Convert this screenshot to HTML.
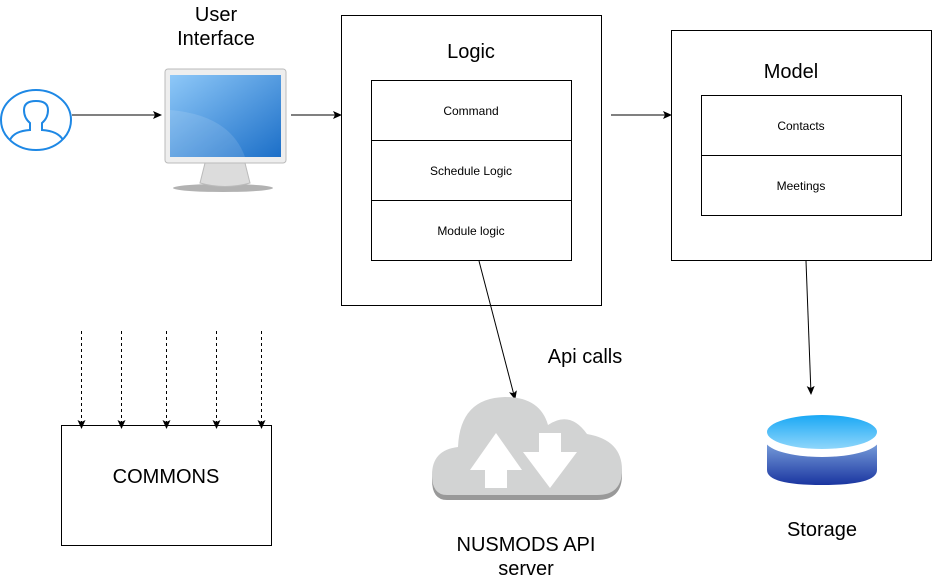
<!DOCTYPE html>
<html><head><meta charset="utf-8"><style>body{margin:0;background:#fff}svg{display:block}text{font-family:"Liberation Sans",sans-serif;fill:#000}</style></head><body>
<svg width="932" height="586" viewBox="0 0 932 586" xmlns="http://www.w3.org/2000/svg">
<defs>
<marker id="a" markerWidth="10" markerHeight="10" refX="8" refY="4" orient="auto" markerUnits="userSpaceOnUse"><path d="M0,0 L9,4 L0,8 L2,4 Z" fill="#000"/></marker>
<linearGradient id="scr" x1="0" y1="0" x2="1" y2="1"><stop offset="0" stop-color="#8ec8f8"/><stop offset="1" stop-color="#1c6fc8"/></linearGradient>
<linearGradient id="top" x1="0" y1="0" x2="0" y2="1"><stop offset="0" stop-color="#1aa8f5"/><stop offset="1" stop-color="#8fd6fb"/></linearGradient>
<linearGradient id="body" x1="0" y1="0" x2="0" y2="1"><stop offset="0" stop-color="#7aa0dc"/><stop offset="1" stop-color="#1a35a0"/></linearGradient>
</defs>
<!-- user -->
<ellipse cx="36" cy="120" rx="35" ry="30" fill="#fff" stroke="#1e88e5" stroke-width="2"/>
<path d="M10,140 Q14,131 30,130 L30,123 Q24,118 24,110 Q24,101 36,101 Q48,101 48,110 Q48,118 42,123 L42,130 Q58,131 63,140" fill="none" stroke="#1e88e5" stroke-width="2"/>
<line x1="72" y1="115" x2="161" y2="115" stroke="#000" marker-end="url(#a)"/>
<!-- monitor -->
<text x="216" y="21" font-size="20" text-anchor="middle">User</text>
<text x="216" y="45" font-size="20" text-anchor="middle">Interface</text>
<ellipse cx="223" cy="188" rx="50" ry="4" fill="#666" opacity="0.5"/>
<path d="M205,163 L245,163 L250,183 Q225,190 200,183 Z" fill="#dcdcdc" stroke="#bbb"/>
<rect x="165" y="69" width="121" height="94" rx="3" fill="#eee" stroke="#bbb"/>
<rect x="170" y="75" width="111" height="82" fill="url(#scr)"/>
<path d="M170,110 Q230,115 245,157 L170,157 Z" fill="#fff" opacity="0.12"/>
<line x1="291" y1="115" x2="341" y2="115" stroke="#000" marker-end="url(#a)"/>
<!-- logic -->
<rect x="341.5" y="15.5" width="260" height="290" fill="#fff" stroke="#000"/>
<text x="471" y="58" font-size="20" text-anchor="middle">Logic</text>
<rect x="371.5" y="80.5" width="200" height="60" fill="#fff" stroke="#000"/>
<rect x="371.5" y="140.5" width="200" height="60" fill="#fff" stroke="#000"/>
<rect x="371.5" y="200.5" width="200" height="60" fill="#fff" stroke="#000"/>
<text x="471" y="115" font-size="12" text-anchor="middle">Command</text>
<text x="471" y="175" font-size="12" text-anchor="middle">Schedule Logic</text>
<text x="471" y="235" font-size="12" text-anchor="middle">Module logic</text>
<line x1="611" y1="115" x2="671" y2="115" stroke="#000" marker-end="url(#a)"/>
<!-- model -->
<rect x="671.5" y="30.5" width="260" height="230" fill="#fff" stroke="#000"/>
<text x="791" y="78" font-size="20" text-anchor="middle">Model</text>
<rect x="701.5" y="95.5" width="200" height="60" fill="#fff" stroke="#000"/>
<rect x="701.5" y="155.5" width="200" height="60" fill="#fff" stroke="#000"/>
<text x="801" y="130" font-size="12" text-anchor="middle">Contacts</text>
<text x="801" y="190" font-size="12" text-anchor="middle">Meetings</text>
<line x1="479" y1="261" x2="515" y2="399" stroke="#000" marker-end="url(#a)"/>
<text x="585" y="363" font-size="20" text-anchor="middle">Api calls</text>
<line x1="806" y1="261" x2="811" y2="394" stroke="#000" marker-end="url(#a)"/>
<!-- cloud -->
<g transform="translate(0,5)"><path d="M447,495 Q432,495 432,475 Q432,450 458,447 Q460,398 505,397 Q540,397 548,425 Q570,410 587,434 Q622,440 622,470 Q622,495 597,495 Z" fill="#999"/></g>
<path d="M447,495 Q432,495 432,475 Q432,450 458,447 Q460,398 505,397 Q540,397 548,425 Q570,410 587,434 Q622,440 622,470 Q622,495 597,495 Z" fill="#d2d3d3"/>
<path d="M470,470 L496,433 L522,470 L507,470 L507,488 L485,488 L485,470 Z" fill="#fff"/>
<path d="M539,433 L561,433 L561,452 L577,452 L550,488 L523,452 L539,452 Z" fill="#fff"/>
<!-- storage -->
<path d="M767,442 L767,470 Q767,485 822,485 Q877,485 877,470 L877,442 Z" fill="url(#body)"/>
<ellipse cx="822" cy="440" rx="57" ry="17" fill="#fff"/>
<ellipse cx="822" cy="432" rx="55" ry="17" fill="url(#top)"/>
<text x="822" y="536" font-size="20" text-anchor="middle">Storage</text>
<text x="526" y="551" font-size="20" text-anchor="middle">NUSMODS API</text>
<text x="526" y="575" font-size="20" text-anchor="middle">server</text>
<!-- commons -->
<rect x="61.5" y="425.5" width="210" height="120" fill="#fff" stroke="#000"/>
<text x="166" y="483" font-size="20" text-anchor="middle">COMMONS</text>
<g stroke="#000" stroke-dasharray="3,3">
<line x1="81.5" y1="331" x2="81.5" y2="428" marker-end="url(#a)"/>
<line x1="121.5" y1="331" x2="121.5" y2="428" marker-end="url(#a)"/>
<line x1="166.5" y1="331" x2="166.5" y2="428" marker-end="url(#a)"/>
<line x1="216.5" y1="331" x2="216.5" y2="428" marker-end="url(#a)"/>
<line x1="261.5" y1="331" x2="261.5" y2="428" marker-end="url(#a)"/>
</g>
</svg>
</body></html>
